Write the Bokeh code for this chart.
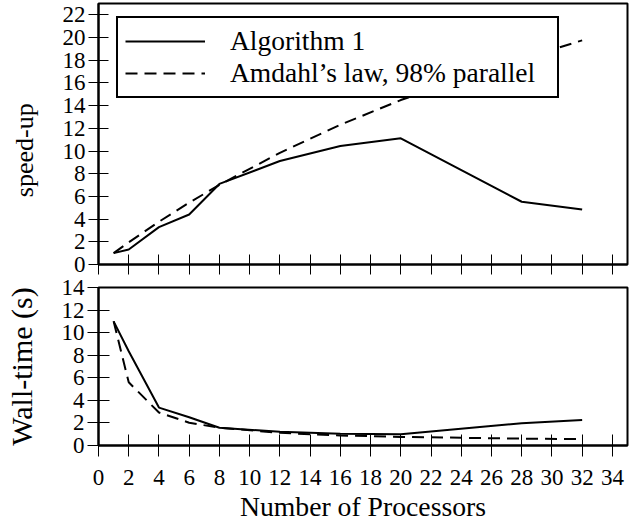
from bokeh.plotting import figure
from bokeh.layouts import column
from bokeh.models import Legend, LegendItem, FixedTicker, Range1d
from bokeh.embed import file_html
from bokeh.resources import INLINE

# Data
procs = [1, 2, 4, 6, 8, 12, 16, 20, 28, 32]
alg_speedup = [1.0, 1.32, 3.29, 4.41, 7.1, 9.12, 10.44, 11.12, 5.53, 4.85]
amdahl_speedup = [1.0, 1.96, 3.77, 5.45, 7.02, 9.84, 12.31, 14.49, 18.1, 19.75]
alg_wall = [11.0, 8.35, 3.36, 2.5, 1.57, 1.21, 1.05, 0.99, 1.98, 2.26]
amdahl_wall = [11.0, 5.6, 2.92, 2.02, 1.57, 1.12, 0.89, 0.76, 0.61, 0.56]
x_ticks = list(range(0, 35, 2))
speed_ticks = list(range(0, 23, 2))
wall_ticks = list(range(0, 15, 2))

FONT = "Liberation Serif"


def style(p, xt, yt, tick_len):
    p.grid.visible = False
    p.outline_line_color = "black"
    p.outline_line_width = 2
    p.background_fill_color = "white"
    p.border_fill_color = "white"
    for ax in (p.xaxis[0], p.yaxis[0]):
        ax.axis_line_color = "black"
        ax.axis_line_width = 2
        ax.major_tick_line_color = "black"
        ax.major_tick_line_width = 1
        ax.minor_tick_line_color = None
        ax.major_tick_in = tick_len
        ax.major_tick_out = tick_len
        ax.major_label_text_font = FONT
        ax.major_label_text_font_size = "23px"
        ax.major_label_text_color = "black"
        ax.axis_label_text_font = FONT
        ax.axis_label_text_font_style = "normal"
        ax.axis_label_text_color = "black"
    p.xaxis[0].ticker = FixedTicker(ticks=xt)
    p.yaxis[0].ticker = FixedTicker(ticks=yt)
    p.yaxis[0].major_label_standoff = 3


p1 = figure(frame_width=529, frame_height=261,
            x_range=Range1d(0, 35), y_range=Range1d(0, 23),
            output_backend="svg", toolbar_location=None,
            min_border_left=98, min_border_right=13,
            min_border_top=3, min_border_bottom=12)
style(p1, x_ticks, speed_ticks, 10)
# trailing no-break spaces shift the label down, as in the reference
p1.yaxis[0].axis_label = "speed-up" + "\u00a0" * 5
p1.yaxis[0].axis_label_text_font_size = "26px"
p1.yaxis[0].axis_label_standoff = 21
p1.xaxis[0].major_label_text_font_size = "1px"
p1.xaxis[0].major_label_text_alpha = 0
p1.xaxis[0].major_label_standoff = 0

r1 = p1.line(procs, alg_speedup, line_color="black", line_width=2)
r2 = p1.line(procs, amdahl_speedup, line_color="black", line_width=2,
             line_dash="12 7")

legend = Legend(items=[LegendItem(label="Algorithm 1", renderers=[r1]),
                       LegendItem(label="Amdahl\u2019s law, 98% parallel", renderers=[r2])],
                location=(18, 166))
legend.border_line_color = "black"
legend.border_line_alpha = 1
legend.border_line_width = 2
legend.background_fill_color = "white"
legend.background_fill_alpha = 1
legend.label_text_font = FONT
legend.label_text_font_size = "27.5px"
legend.label_text_color = "black"
legend.glyph_width = 80
legend.label_standoff = 25
legend.label_width = 320
legend.padding = 7
legend.spacing = 0
legend.margin = 0
p1.add_layout(legend)

p2 = figure(frame_width=529, frame_height=158,
            x_range=Range1d(0, 35), y_range=Range1d(0, 14),
            output_backend="svg", toolbar_location=None,
            min_border_left=98, min_border_right=13,
            min_border_top=11, min_border_bottom=76)
style(p2, x_ticks, wall_ticks, 11)
p2.yaxis[0].axis_label = "Wall-time (s)"
p2.yaxis[0].axis_label_text_font_size = "30px"
p2.yaxis[0].axis_label_standoff = 21
p2.xaxis[0].axis_label = "Number of Processors"
p2.xaxis[0].axis_label_text_font_size = "27.7px"
p2.xaxis[0].major_label_standoff = 13
p2.xaxis[0].axis_label_standoff = 3

p2.line(procs, alg_wall, line_color="black", line_width=2)
p2.line(procs, amdahl_wall, line_color="black", line_width=2, line_dash="12 7")

layout = column(p1, p2)
open("out.html", "w").write(file_html(layout, INLINE))
